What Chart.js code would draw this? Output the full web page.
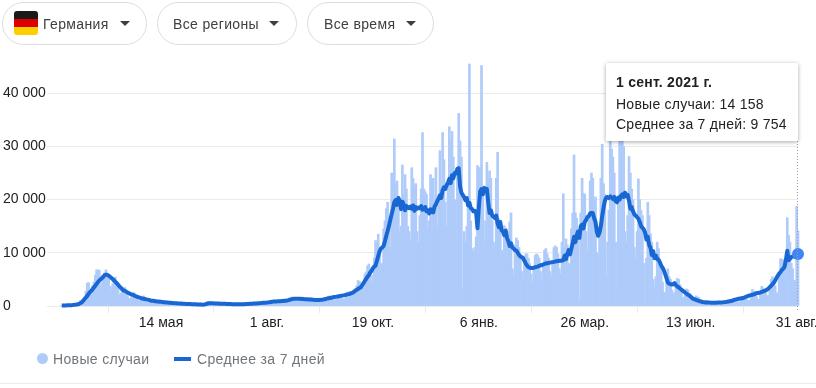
<!DOCTYPE html>
<html lang="ru">
<head>
<meta charset="utf-8">
<title>Германия</title>
<script src="https://cdn.jsdelivr.net/npm/chart.js@4"></script>
<style>
  html, body { margin: 0; padding: 0; background: #fff; }
  body { width: 816px; height: 388px; overflow: hidden; position: relative; font: 14px "Liberation Sans", Arial, sans-serif; color: #202124; }
  canvas { position: absolute; left: 0; top: 0; }
  .pill { position: absolute; top: 2px; height: 43px; box-sizing: border-box; border: 1px solid #dadce0; border-radius: 22px; color: #3c4043; line-height: 42px; letter-spacing: .35px; }
  .pill span { position: absolute; top: 0; white-space: nowrap; }
  .arrow { position: absolute; top: 18px; width: 0; height: 0; border-left: 5px solid transparent; border-right: 5px solid transparent; border-top: 5px solid #3c4043; }
  .flag { position: absolute; left: 11px; top: 8px; width: 24px; height: 24px; border-radius: 3px; background: linear-gradient(#1a1a1a 0 33%, #dd0000 33% 66%, #ffce00 66%); }
  #tip { position: absolute; left: 606px; top: 63px; width: 192px; height: 78px; background: #fff; box-shadow: 0 1px 4px rgba(0,0,0,.35); border-radius: 1px; letter-spacing: .25px; }
  #tip div { position: absolute; left: 10px; white-space: nowrap; line-height: 16px; }
  .legend { position: absolute; top: 351px; color: #70757a; line-height: 16px; white-space: nowrap; letter-spacing: .35px; }
  .dot { position: absolute; left: 37px; top: 353px; width: 11px; height: 11px; border-radius: 50%; background: #aecbfa; }
  .dash { position: absolute; left: 174px; top: 357px; width: 17px; height: 4px; background: #1967d2; }
  hr { position: absolute; left: 0; right: 0; top: 383px; margin: 0; border: 0; border-top: 1px solid #ebebeb; }
</style>
</head>
<body>
<canvas id="chart" width="830" height="388"></canvas>

<div class="pill" style="left:2px;width:145px"><i class="flag"></i><span style="left:40px">Германия</span><i class="arrow" style="left:117px"></i></div>
<div class="pill" style="left:157px;width:140px"><span style="left:15px">Все регионы</span><i class="arrow" style="left:111px"></i></div>
<div class="pill" style="left:307px;width:127px"><span style="left:16px">Все время</span><i class="arrow" style="left:98px"></i></div>

<div id="tip">
  <div style="top:11px;font-weight:bold">1 сент. 2021 г.</div>
  <div style="top:33px">Новые случаи: 14 158</div>
  <div style="top:53px">Среднее за 7 дней: 9 754</div>
</div>

<i class="dot"></i><div class="legend" style="left:53px">Новые случаи</div>
<i class="dash"></i><div class="legend" style="left:197px">Среднее за 7 дней</div>
<hr>

<script>
// day 0 = 1 March 2020, one row = one week
const tickDays = [74, 153, 232, 311, 390, 469, 548];
const tickLabels = ['14 мая', '1 авг.', '19 окт.', '6 янв.', '26 мар.', '13 июн.', '31 авг.'];
const yTicks = [0, 10000, 20000, 30000, 40000];

const newCases = [
  20,30,50,60,80,120,130,
  150,170,200,250,280,300,600,
  1000,1100,1200,1500,2800,4300,4400,
  2000,2100,3800,4500,5800,6800,6800,
  6700,3800,4400,5500,6200,6800,6000,
  5600,3700,3100,4200,5300,5400,4000,
  3300,2000,2400,2800,2900,3500,2800,
  1900,1400,1300,1700,2400,2500,2000,
  1400,1100,900,1200,1500,1900,1400,
  800,700,800,1100,1200,1200,1000,
  600,600,700,900,1000,950,800,
  500,500,550,750,800,700,600,
  400,350,450,600,650,550,450,
  300,250,350,500,500,400,350,
  200,200,300,350,400,350,300,
  150,200,300,700,900,800,650,
  500,300,500,600,650,550,400,
  300,300,400,500,550,450,350,
  250,250,350,450,500,400,300,
  230,300,400,500,500,450,350,
  300,350,500,550,600,500,400,
  350,400,600,800,850,750,500,
  400,500,800,1000,1000,950,700,
  500,600,900,1100,1200,1100,800,
  700,900,1300,1600,1700,1600,1100,
  800,900,1300,1600,1700,1500,1100,
  700,900,1300,1500,1500,1400,900,
  700,800,1200,1400,1500,1300,900,
  800,1000,1400,1700,1900,1700,1200,
  1000,1200,1700,2100,2200,2000,1500,
  1200,1400,2000,2500,2700,2500,1800,
  2200,1500,2600,3800,4800,4600,3700,
  2400,3400,6000,6400,7500,7900,7000,
  4500,5800,9000,12300,11800,13500,10500,
  6500,8000,14500,16000,18300,19500,15000,
  11000,25000,24800,31400,23000,23500,19000,
  14000,15000,26500,21000,24700,22000,15000,
  14000,12500,26000,24000,22600,23000,14000,
  12000,17000,22000,32600,22000,21500,21000,
  14500,16000,24700,23500,24000,20000,26000,
  15000,19000,29200,22500,32600,27500,19500,
  15000,22000,33700,31000,32800,28000,20000,
  12000,25000,36200,31000,28000,3500,14000,
  12000,15000,20000,45500,16000,10800,10200,
  11000,13000,26400,26000,26000,45200,22600,
  12000,16000,27000,24000,25400,24000,16000,
  12000,10500,24000,28900,16400,15000,10500,
  8500,15100,14500,14000,13500,15800,17500,
  7000,6000,11500,12800,12300,11000,9800,
  6500,5000,8500,9800,9800,9000,8000,
  6000,4500,7000,9500,9800,9500,9000,
  6500,5000,7500,10500,10800,9800,9000,
  6500,5500,8500,11000,11300,11000,9800,
  7000,6000,12000,21100,11000,12600,11500,
  8000,7500,14500,17500,28400,17500,16500,
  13000,1200,17500,24000,21200,21000,14000,
  10500,17000,23500,25000,24000,20000,20500,
  10000,9500,15000,24000,30400,23000,21000,
  5500,12000,18000,32000,29500,28000,25000,12000,
  3500,20000,33000,31500,33000,30000,14000,
  12000,17000,28100,25000,22000,20000,11000,
  9000,14000,23900,20000,18000,17000,8000,
  500,9000,19500,17000,13600,12000,5000,
  3500,5500,12000,10800,8000,7000,4500,
  2500,2500,4500,7000,5500,5000,3000,
  2000,2500,4000,5200,5000,4000,3000,
  1500,1700,3000,3200,3000,2400,1800,
  1000,1000,1500,1900,1700,1600,1200,
  600,500,900,1100,1000,900,700,
  500,400,700,900,900,800,650,
  400,400,800,900,850,750,600,
  500,550,1000,1100,1200,1000,800,
  700,800,1400,1700,1700,1500,1200,
  1000,1100,2400,3100,2800,2500,1800,
  1300,1200,2300,3700,3400,3000,2400,
  1800,2000,3800,5000,5500,5000,3800,
  2500,2000,5500,8900,8800,8700,8400,
  5500,16600,13300,12000,8000,7000,2500,
  4800,18700,14158
];

const avg7 = [
  80,90,100,110,120,130,150,
  160,180,210,250,280,320,420,
  550,700,1000,1300,1600,1900,2250,
  2600,2850,3150,3500,3800,4150,4500,
  4800,5000,5250,5500,5800,5900,5850,
  5700,5500,5300,5050,4800,4550,4300,
  4000,3700,3450,3150,2950,2850,2700,
  2550,2400,2300,2150,2100,1950,1850,
  1750,1650,1600,1500,1400,1350,1300,
  1250,1200,1150,1050,1000,1000,950,
  900,850,850,800,780,750,720,
  700,680,650,620,600,580,560,
  540,520,500,480,460,450,430,
  420,400,390,380,370,360,340,
  330,320,310,300,290,270,260,
  250,270,310,400,480,500,510,
  510,500,490,480,470,460,440,
  430,420,410,400,390,380,370,
  360,350,340,330,330,320,320,
  320,330,340,350,360,370,390,
  400,410,430,450,470,490,500,
  520,540,570,590,610,630,650,
  680,720,760,800,830,850,860,
  870,880,900,920,940,970,1000,
  1050,1100,1180,1250,1300,1340,1350,
  1360,1360,1350,1340,1320,1310,1290,
  1280,1260,1240,1220,1200,1180,1160,
  1150,1140,1130,1120,1150,1180,1220,
  1280,1340,1400,1450,1500,1550,1620,
  1680,1720,1760,1800,1850,1900,1950,
  2000,2050,2120,2180,2230,2300,2400,
  2500,2700,2900,3050,3200,3400,3500,
  3900,4300,4700,5100,5500,5800,6300,
  6600,7100,7400,7600,8500,9400,10300,
  10800,11000,11300,12200,13200,14100,15100,
  16200,17300,18300,19500,19900,19000,20300,
  19800,18200,19600,19100,18000,18800,18500,
  18400,18700,18300,18900,17900,18600,18300,
  18500,18400,18800,18100,18200,18600,17800,
  18000,17400,18200,17700,17600,18700,19100,
  19700,20200,20800,20300,21800,22300,22000,
  22700,23200,23900,23100,24600,24000,25000,
  24900,25800,25900,22500,21300,20900,20500,
  19900,20300,18900,19400,18400,18200,17800,
  17900,17500,14600,18500,21500,22000,21000,
  22200,21800,22000,19500,17500,18000,17000,
  16800,16500,17000,15500,14800,15800,14200,
  14000,13300,14200,12800,12200,11300,11800,
  11000,10800,10500,10400,10000,9600,9300,
  9200,9000,8500,8000,7600,7300,7200,
  7150,7150,7200,7300,7350,7400,7550,
  7650,7700,7800,7900,8000,8050,8100,
  8150,8200,8250,8300,8350,8400,8450,
  8500,8500,8550,8600,9500,8800,9800,
  10500,9700,10800,11800,13000,12000,13300,
  14000,12800,15000,15300,14600,15800,16200,
  16700,16900,17400,17500,17500,16500,15800,
  14000,13200,13800,15000,16900,18500,19800,
  20400,20500,20300,20600,20400,20100,20500,
  19700,19500,20400,20000,20700,21000,20500,
  21300,20600,20900,19800,18300,18600,17800,
  17200,17000,16700,16400,15800,15000,14700,
  14400,13800,12500,13000,11500,11000,9600,
  10300,9000,9500,8800,8700,8200,7600,
  7200,6700,6000,5200,4400,4200,4100,
  4050,4100,4300,3900,3700,3500,3300,
  3100,2900,2700,2500,2300,2100,1950,
  1750,1500,1350,1250,1150,1050,950,
  900,800,740,700,680,660,650,
  640,630,620,620,620,630,640,
  650,660,680,700,730,760,800,
  850,900,950,1000,1100,1200,1250,
  1300,1350,1400,1450,1500,1600,1700,
  1800,1900,2000,2050,2100,2200,2300,
  2400,2450,2500,2550,2650,2750,2850,
  2950,3100,3300,3550,3800,4100,4400,
  4800,5300,5700,6100,6400,6800,7000,
  7400,8700,10400,8600,8900,9200,9300,
  9400,9500,9600,9754
];

const formatNum = v => String(v).replace(/\B(?=(\d{3})+$)/g, ' ');
const lastIdx = avg7.length - 1;

// dotted hover line from the tooltip down to the axis
const hoverLine = {
  id: 'hoverLine',
  afterDatasetsDraw(chart) {
    const x = chart.scales.x.getPixelForValue(lastIdx);
    const c = chart.ctx;
    c.save();
    c.strokeStyle = '#9aa0a6';
    c.lineWidth = 1;
    c.setLineDash([1, 2]);
    c.beginPath();
    c.moveTo(Math.round(x) - 0.5, 141);
    c.lineTo(Math.round(x) - 0.5, 312);
    c.stroke();
    c.restore();
  }
};

new Chart(document.getElementById('chart'), {
  data: {
    datasets: [
      {
        type: 'line',
        label: 'Среднее за 7 дней',
        data: avg7.map((y, i) => ({ x: i, y })),
        borderColor: '#1967d2',
        borderWidth: 4,
        tension: 0,
        borderJoinStyle: 'round',
        clip: false,
        pointRadius: ctx => ctx.dataIndex === lastIdx ? 6 : 0,
        pointBackgroundColor: '#4285f4',
        pointBorderWidth: 0,
        order: 1
      },
      {
        type: 'bar',
        label: 'Новые случаи',
        data: newCases.map((y, i) => ({ x: i, y })),
        backgroundColor: '#aecbfa',
        barThickness: 2,
        clip: false,
        order: 2
      }
    ]
  },
  options: {
    responsive: false,
    animation: false,
    events: [],
    layout: { padding: { left: 3, top: 56, right: 32, bottom: 0 } },
    plugins: { legend: { display: false }, tooltip: { enabled: false } },
    scales: {
      x: {
        type: 'linear',
        offset: false,
        min: -11,
        max: 549,
        afterBuildTicks: axis => { axis.ticks = tickDays.map(value => ({ value })); },
        afterFit: axis => { axis.height = 82; },
        grid: { drawOnChartArea: false, tickLength: 7, tickColor: '#e8eaed' },
        border: { display: false },
        ticks: {
          autoSkip: false,
          maxRotation: 0,
          padding: 2,
          color: '#202124',
          font: { family: '"Liberation Sans", Arial, sans-serif', size: 14 },
          callback: v => tickLabels[tickDays.indexOf(v)]
        }
      },
      y: {
        min: 0,
        max: 47000,
        afterBuildTicks: axis => { axis.ticks = yTicks.map(value => ({ value })); },
        afterFit: axis => { axis.width = 44; },
        grid: { drawTicks: false, color: '#ebebeb' },
        border: { display: false },
        ticks: {
          crossAlign: 'far',
          padding: 0,
          color: '#202124',
          font: { family: '"Liberation Sans", Arial, sans-serif', size: 14 },
          callback: v => formatNum(v)
        }
      }
    }
  },
  plugins: [hoverLine]
});
</script>
</body>
</html>
